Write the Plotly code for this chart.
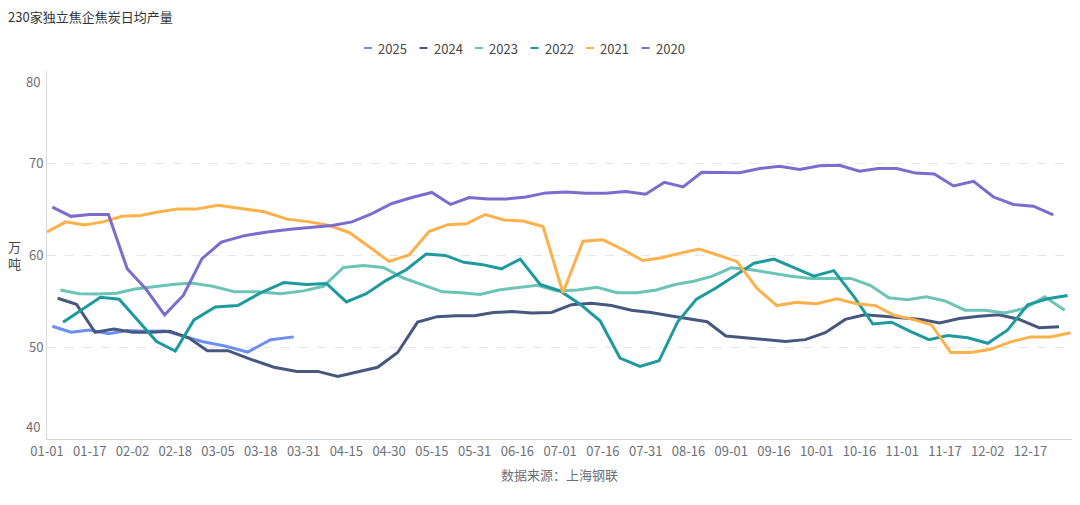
import pandas as pd
import numpy as np
import plotly.graph_objects as go

title_text = "230家独立焦企焦炭日均产量"
unit_text = "万<br>吨"
source_text = "数据来源：上海钢联"

tick_labels = ["01-01", "01-17", "02-02", "02-18", "03-05", "03-18", "03-31", "04-15",
               "04-30", "05-15", "05-31", "06-16", "07-01", "07-16", "07-31", "08-16",
               "09-01", "09-16", "10-01", "10-16", "11-01", "11-17", "12-02", "12-17"]

years = ["2025", "2024", "2023", "2022", "2021", "2020"]
first_dates = ["2025-01-03", "2024-01-05", "2023-01-06", "2022-01-07", "2021-01-01", "2020-01-03"]
colors = ["#6e8ff2", "#47587f", "#6bc4b6", "#1e9a9f", "#fdb14b", "#7b6ccd"]

values_2025 = [52.25, 51.6, 51.85, 51.45, 51.8, 51.7, 51.75, 51.15, 50.6, 50.1, 49.45, 50.8, 51.1]

values_2024 = [55.3, 54.65, 51.6, 51.95, 51.6, 51.6, 51.7, 51.0, 49.6, 49.6,
               48.65, 47.8, 47.35, 47.35, 46.8, 47.3, 47.8, 49.4, 52.7, 53.3,
               53.4, 53.4, 53.75, 53.85, 53.7, 53.75, 54.6, 54.75, 54.5, 54.0,
               53.75, 53.4, 53.1, 52.75, 51.2, 51.0, 50.8, 50.6, 50.8, 51.55,
               53.0, 53.5, 53.35, 53.2, 53.0, 52.6, 53.1, 53.35, 53.5, 53.0,
               52.1, 52.2]

values_2023 = [56.2, 55.8, 55.75, 55.85, 56.3, 56.55, 56.8, 56.95, 56.6, 56.0,
               56.0, 55.8, 56.1, 56.6, 58.65, 58.85, 58.65, 57.5, 56.7, 56.0,
               55.9, 55.7, 56.2, 56.45, 56.7, 56.1, 56.2, 56.5, 55.9, 55.9,
               56.2, 56.8, 57.15, 57.7, 58.6, 58.4, 58.05, 57.7, 57.45, 57.45,
               57.45, 56.7, 55.35, 55.15, 55.45, 55.0, 54.0, 54.0, 53.7, 54.2,
               55.45, 54.0]

values_2022 = [52.7, 54.05, 55.4, 55.2, 52.9, 50.6, 49.55, 52.95, 54.35, 54.5,
               55.9, 57.0, 56.8, 56.9, 54.9, 55.8, 57.25, 58.4, 60.1, 59.95,
               59.2, 58.95, 58.5, 59.55, 56.8, 56.1, 54.65, 52.85, 48.8, 47.9,
               48.5, 52.75, 55.2, 56.35, 57.7, 59.1, 59.55, 58.6, 57.7, 58.3,
               55.5, 52.5, 52.7, 51.7, 50.8, 51.25, 51.0, 50.4, 51.85, 54.6,
               55.25, 55.6]

values_2021 = [62.5, 63.6, 63.25, 63.6, 64.2, 64.3, 64.7, 65.0, 65.0, 65.4,
               65.05, 64.7, 63.9, 63.6, 63.2, 62.45, 60.9, 59.3, 60.0, 62.55,
               63.3, 63.4, 64.4, 63.8, 63.7, 63.1, 55.9, 61.5, 61.65, 60.6,
               59.4, 59.7, 60.2, 60.65, 60.0, 59.3, 56.4, 54.5, 54.85, 54.7,
               55.25, 54.7, 54.5, 53.45, 53.0, 52.4, 49.4, 49.4, 49.75, 50.55,
               51.1, 51.1, 51.55]

values_2020 = [65.2, 64.2, 64.4, 64.4, 58.5, 56.3, 53.5, 55.6, 59.6, 61.4,
               62.1, 62.5, 62.8, 63.0, 63.2, 63.6, 64.5, 65.6, 66.25, 66.8,
               65.5, 66.25, 66.1, 66.1, 66.3, 66.75, 66.85, 66.7, 66.7, 66.9,
               66.6, 67.9, 67.4, 69.0, 69.0, 68.95, 69.4, 69.65, 69.3, 69.7,
               69.75, 69.1, 69.4, 69.4, 68.9, 68.8, 67.5, 68.0, 66.3, 65.5,
               65.3, 64.35]

series_values = [values_2025, values_2024, values_2023, values_2022, values_2021, values_2020]

# category-like axis: tick labels are equally spaced, dates are placed between them
tick_doy = [pd.Timestamp("2020-" + t).dayofyear for t in tick_labels] + [367]
tick_idx = list(range(len(tick_doy)))


def axis_position(md):
    return float(np.interp(pd.Timestamp("2020-" + md).dayofyear, tick_doy, tick_idx))


FONT = "Noto Sans CJK SC, Noto Sans, sans-serif"
AXIS_COLOR = "#6e7079"

fig = go.Figure()
for year, start, vals, col in zip(years, first_dates, series_values, colors):
    md = list(pd.date_range(start, periods=len(vals), freq="7D").strftime("%m-%d"))
    xs = [axis_position(m) for m in md]
    fig.add_trace(go.Scatter(
        x=xs, y=vals, mode="lines", name=year, showlegend=False,
        line=dict(color=col, width=3), customdata=md,
        hovertemplate="%{customdata}: %{y}<extra>" + year + "</extra>"))

# legend drawn as short dashes + labels above the plot (centered row)
legend_first_px = 321     # offset of first dash centre from plot's left edge
legend_pitch_px = 55.5
legend_raise_px = 23
for i, (year, col) in enumerate(zip(years, colors)):
    cx = legend_first_px + i * legend_pitch_px
    fig.add_shape(type="line", xref="paper", yref="paper",
                  xsizemode="pixel", ysizemode="pixel", xanchor=0, yanchor=1,
                  x0=cx - 4, x1=cx + 4, y0=legend_raise_px, y1=legend_raise_px,
                  line=dict(color=col, width=2))
    fig.add_annotation(text=year, xref="paper", yref="paper", x=0, y=1,
                       xanchor="left", yanchor="middle",
                       xshift=cx + 8, yshift=legend_raise_px, showarrow=False,
                       font=dict(family=FONT, size=13, color="#464646"))

fig.update_layout(
    width=1064, height=489,
    margin=dict(l=39, r=0, t=63, b=58),
    paper_bgcolor="white", plot_bgcolor="white",
    font=dict(family=FONT, size=13, color=AXIS_COLOR),
    title=dict(text=title_text, x=0.0, xanchor="left", xref="container", y=0.99, yanchor="top",
               pad=dict(l=0), font=dict(family=FONT, size=13, color="#333333")),
    showlegend=False,
    hovermode="closest",
)

fig.update_xaxes(
    range=[0, 23.97], tickmode="array", tickvals=list(range(len(tick_labels))), ticktext=tick_labels,
    showgrid=False, zeroline=False, showline=True, linecolor="#d8d8d8", linewidth=1,
    ticks="", tickfont=dict(size=13, color=AXIS_COLOR),
    title=dict(text=source_text, standoff=12, font=dict(size=13, color=AXIS_COLOR)),
)

fig.update_yaxes(
    range=[40, 80], tickmode="array", tickvals=[40, 50, 60, 70, 80],
    ticktext=["", "50", "60", "70", ""],
    showgrid=True, gridcolor="#e6e6e6", griddash="dash", gridwidth=1,
    zeroline=False, showline=True, linecolor="#d8d8d8", linewidth=1,
    ticks="", tickfont=dict(size=13, color=AXIS_COLOR),
)

# end labels sit slightly inside the axis, as in the original
fig.add_annotation(text="80", x=0, xref="paper", xanchor="right", xshift=-5,
                   y=80, yref="y", yshift=-10, showarrow=False,
                   font=dict(size=13, color=AXIS_COLOR, family=FONT))
fig.add_annotation(text="40", x=0, xref="paper", xanchor="right", xshift=-5,
                   y=40, yref="y", yshift=13, showarrow=False,
                   font=dict(size=13, color=AXIS_COLOR, family=FONT))
fig.add_annotation(text=unit_text, x=0, xref="paper", xanchor="center", xshift=-33,
                   y=60, yref="y", showarrow=False, align="center",
                   font=dict(size=13, color="#464646", family=FONT))

fig.write_html("out.html")
